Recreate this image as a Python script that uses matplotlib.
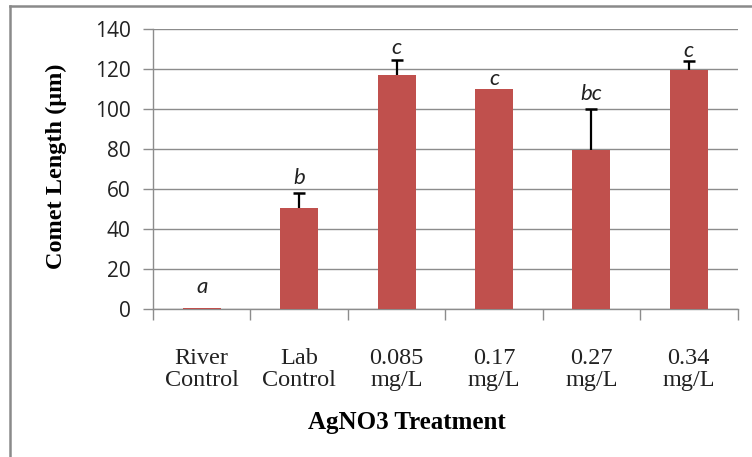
import matplotlib
matplotlib.use("Agg")
import matplotlib.pyplot as plt
from matplotlib.lines import Line2D

categories = ["River\nControl", "Lab\nControl", "0.085\nmg/L", "0.17\nmg/L", "0.27\nmg/L", "0.34\nmg/L"]
values = [0.6, 50.6, 117.0, 110.2, 79.5, 119.5]
errors = [0.0, 7.7, 7.5, 0.0, 20.8, 4.5]
letters = ["a", "b", "c", "c", "bc", "c"]
yticks = [0, 20, 40, 60, 80, 100, 120, 140]

W, H = 752, 457
fig = plt.figure(figsize=(W / 100, H / 100), dpi=100)
fig.patch.set_facecolor("white")

l, r, t, b = 153, 737.5, 29.3, 309.3
ax = fig.add_axes([l / W, 1 - b / H, (r - l) / W, (b - t) / H])

x = list(range(len(categories)))
ax.bar(x, values, width=0.39, color="#C0504D", zorder=3)

# upper-only error bars
ex = [xi for xi, e in zip(x, errors) if e > 0]
ev = [v for v, e in zip(values, errors) if e > 0]
et = [v + e for v, e in zip(values, errors) if e > 0]
ax.vlines(ex, ev, et, color="black", linewidth=1.6, zorder=4)
ax.plot(ex, et, linestyle="none", marker="_", markersize=9, markeredgewidth=1.8,
        color="black", zorder=4)

offsets = [10.5, 7.3, 6.0, 5.0, 7.3, 5.0]
for xi, v, e, lab, o in zip(x, values, errors, letters, offsets):
    ax.text(xi, v + e + o, lab, ha="center", va="center", fontsize=16,
            style="italic", family=["Lato", "DejaVu Sans"], color="#222222")

ax.set_xlim(-0.5, len(categories) - 0.5)
ax.set_ylim(0, 140)
ax.set_yticks(yticks)
ax.set_yticklabels([str(v) for v in yticks], fontsize=15, family=["Open Sans", "DejaVu Sans"], color="#222222")
ax.yaxis.grid(True, color="#8c8c8c", linewidth=1.0, zorder=0)
ax.set_axisbelow(True)
ax.tick_params(axis="y", length=7, color="#8c8c8c", width=1.0, pad=9)

ax.set_xticks([i - 0.5 for i in range(len(categories) + 1)])
ax.set_xticklabels([])
ax.set_xticks(x, minor=True)
ax.set_xticklabels(categories, minor=True, fontsize=17.5,
                   family=["Liberation Serif", "DejaVu Serif"], color="#222222", linespacing=1.05)
ax.tick_params(axis="x", which="major", length=8, color="#8c8c8c", width=1.0, direction="out")
ax.tick_params(axis="x", which="minor", length=0, pad=28)

for s in ["top", "right"]:
    ax.spines[s].set_visible(False)
for s in ["left", "bottom"]:
    ax.spines[s].set_color("#8c8c8c")
    ax.spines[s].set_linewidth(1.0)

fig.text(56 / W, 1 - 166.5 / H, "Comet Length (μm)", rotation=90, ha="center", va="center",
         fontsize=17.5, fontweight="bold", family=["Liberation Serif", "DejaVu Serif"])
fig.text(407 / W, 1 - 423 / H, "AgNO3 Treatment", ha="center", va="center",
         fontsize=18, fontweight="bold", family=["Liberation Serif", "DejaVu Serif"])

fig.add_artist(Line2D([9.5 / W, 9.5 / W], [0, 1 - 5.5 / H], transform=fig.transFigure,
                      color="#8a8a8a", linewidth=1.8))
fig.add_artist(Line2D([9.5 / W, 1], [1 - 5.5 / H, 1 - 5.5 / H], transform=fig.transFigure,
                      color="#8a8a8a", linewidth=1.8))

fig.savefig("out.png", dpi=100)
